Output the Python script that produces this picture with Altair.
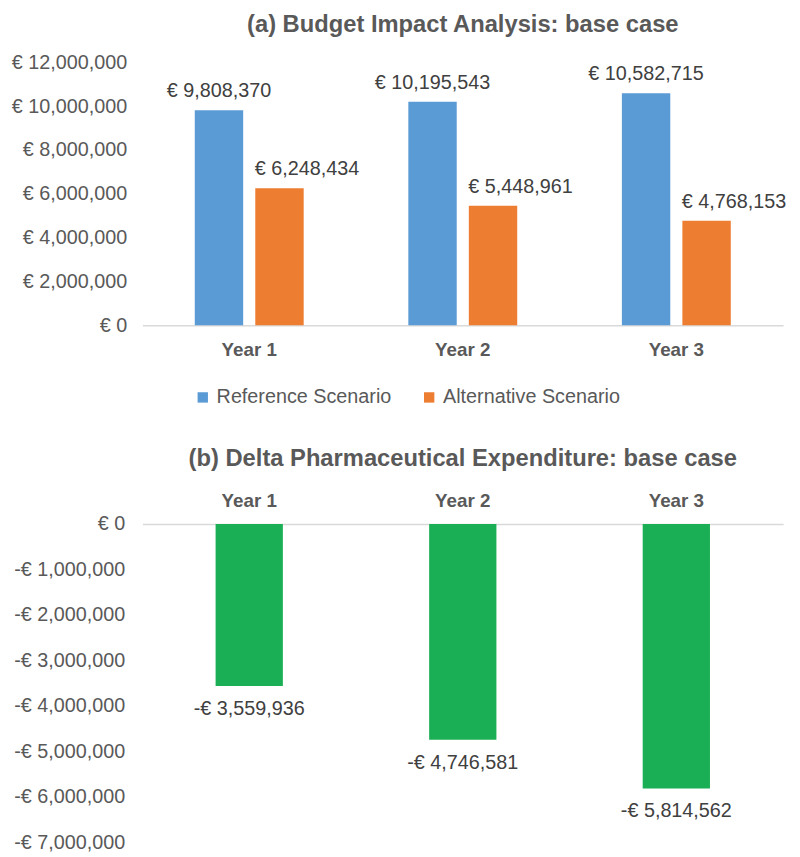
import altair as alt
import pandas as pd

years = ["Year 1", "Year 2", "Year 3"]
reference = [9808370, 10195543, 10582715]
alternative = [6248434, 5448961, 4768153]
delta = [-3559936, -4746581, -5814562]
series = ["Reference Scenario", "Alternative Scenario"]
colors = ["#5b9bd5", "#ed7d31"]

rows = []
for i, y in enumerate(years):
    rows.append({"year": y, "series": series[0], "value": reference[i]})
    rows.append({"year": y, "series": series[1], "value": alternative[i]})
df_a = pd.DataFrame(rows)
df_a["label"] = df_a["value"].map(lambda v: "€ " + format(v, ","))

df_b = pd.DataFrame({"year": years, "value": delta})
df_b["label"] = df_b["value"].map(lambda v: "-€ " + format(-v, ","))

FONT = "Liberation Sans"
GREY = "#595959"
LBL = "#404040"

W = 648
PI_A = 0.49
x_a = alt.X("year:N", title=None, sort=years,
            scale=alt.Scale(paddingInner=PI_A, paddingOuter=PI_A / 2),
            axis=alt.Axis(labelFontWeight="bold", labelFontSize=19, labelColor=GREY,
                          labelAngle=0, ticks=False, domainColor="#d9d9d9",
                          domainWidth=1.5, labelPadding=16))
y_a = alt.Y("value:Q", title=None,
            scale=alt.Scale(domain=[0, 12000000]),
            axis=alt.Axis(values=list(range(0, 12000001, 2000000)), grid=False, domain=False,
                          ticks=False, labelFontSize=20, labelColor=GREY, labelPadding=16,
                          labelExpr="'€ ' + format(datum.value, ',')"))
xo = alt.XOffset("series:N", sort=series, scale=alt.Scale(paddingInner=0.2, paddingOuter=0))

bars_a = alt.Chart(df_a).mark_bar().encode(
    x=x_a, y=y_a, xOffset=xo,
    color=alt.Color("series:N", sort=series,
                    scale=alt.Scale(domain=series, range=colors),
                    legend=alt.Legend(title=None, orient="none", direction="horizontal",
                                      legendX=51, legendY=329,
                                      symbolType="square", symbolSize=110,
                                      symbolStrokeWidth=0, labelOffset=4,
                                      labelFontSize=20, labelColor=GREY,
                                      labelLimit=400, columnPadding=28))
)
text_ref = alt.Chart(df_a).transform_filter(
    alt.datum.series == series[0]
).mark_text(baseline="alphabetic", dy=-13, fontSize=20, color=LBL, font=FONT).encode(
    x=alt.X("year:N", sort=years), y="value:Q", xOffset=xo, text="label:N"
)
text_alt = alt.Chart(df_a).transform_filter(
    alt.datum.series == series[1]
).mark_text(baseline="alphabetic", align="left", dx=-25, dy=-13, fontSize=20,
            color=LBL, font=FONT).encode(
    x=alt.X("year:N", sort=years), y="value:Q", xOffset=xo, text="label:N"
)
chart_a = alt.layer(bars_a, text_ref, text_alt).properties(
    width=W, height=266,
    title=alt.TitleParams("(a) Budget Impact Analysis: base case", fontSize=24,
                          fontWeight="bold", color=GREY, font=FONT, offset=16,
                          anchor="middle", frame="group")
)

PI_B = 0.685
x_b = alt.X("year:N", title=None, sort=years,
            scale=alt.Scale(paddingInner=PI_B, paddingOuter=PI_B / 2),
            axis=alt.Axis(orient="top", labelFontWeight="bold", labelFontSize=19,
                          labelColor=GREY, labelAngle=0, ticks=False,
                          domainColor="#d9d9d9", domainWidth=1.5, labelPadding=14))
y_b = alt.Y("value:Q", title=None,
            scale=alt.Scale(domain=[-7000000, 0]),
            axis=alt.Axis(values=list(range(-7000000, 1, 1000000)), grid=False, domain=False,
                          ticks=False, labelFontSize=20, labelColor=GREY, labelPadding=18,
                          labelExpr="datum.value < 0 ? '-€ ' + format(-datum.value, ',') : '€ ' + format(datum.value, ',')"))
bars_b = alt.Chart(df_b).mark_bar(color="#1aaf54").encode(x=x_b, y=y_b)
text_b = alt.Chart(df_b).mark_text(baseline="top", dy=13, fontSize=20,
                                   color=LBL, font=FONT).encode(
    x=alt.X("year:N", sort=years), y="value:Q", text="label:N"
)
chart_b = alt.layer(bars_b, text_b).properties(
    width=W, height=322,
    title=alt.TitleParams("(b) Delta Pharmaceutical Expenditure: base case", fontSize=24,
                          fontWeight="bold", color=GREY, font=FONT, offset=21,
                          anchor="middle", frame="group")
)

chart = alt.vconcat(chart_a, chart_b, spacing=40).resolve_scale(
    color="independent"
).properties(
    padding={"left": 3, "top": 0, "right": 5, "bottom": 5}
).configure(font=FONT).configure_view(stroke=None).configure_axis(
    labelFont=FONT).configure_legend(labelFont=FONT)

chart.save("out.html", embed_options={"renderer": "svg", "actions": False})
